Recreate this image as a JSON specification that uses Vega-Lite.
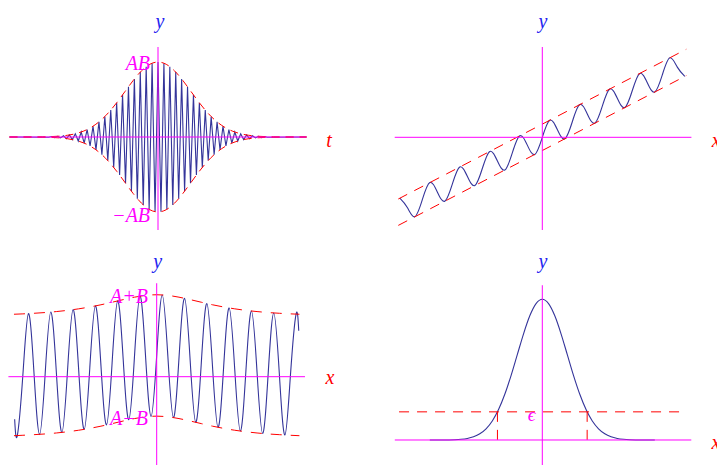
{
  "$schema": "https://vega.github.io/schema/vega-lite/v6.json",
  "width": 717,
  "height": 465,
  "autosize": {"type": "none"},
  "padding": 0,
  "background": "white",
  "config": {
    "view": {"stroke": null},
    "text": {"font": "Liberation Serif", "fontStyle": "italic", "fontSize": 20, "baseline": "middle"},
    "line": {"strokeWidth": 1.1},
    "rule": {"strokeWidth": 1}
  },
  "datasets": {
    "packet": [
      {"x": -4.5, "y": 0},
      {"x": -3.3115, "y": -0.0042}, {"x": -3.222, "y": 0.0056}, {"x": -3.1325, "y": -0.0074}, {"x": -3.043, "y": 0.0098},
      {"x": -2.9535, "y": -0.0128}, {"x": -2.864, "y": 0.0166}, {"x": -2.7745, "y": -0.0213}, {"x": -2.685, "y": 0.0272},
      {"x": -2.5955, "y": -0.0344}, {"x": -2.506, "y": 0.0433}, {"x": -2.4165, "y": -0.0539}, {"x": -2.327, "y": 0.0667},
      {"x": -2.2375, "y": -0.0818}, {"x": -2.148, "y": 0.0996}, {"x": -2.0585, "y": -0.12}, {"x": -1.969, "y": 0.144},
      {"x": -1.8795, "y": -0.171}, {"x": -1.79, "y": 0.2015}, {"x": -1.7005, "y": -0.236}, {"x": -1.611, "y": 0.273},
      {"x": -1.5215, "y": -0.314}, {"x": -1.432, "y": 0.359}, {"x": -1.3425, "y": -0.406}, {"x": -1.253, "y": 0.456},
      {"x": -1.1635, "y": -0.508}, {"x": -1.074, "y": 0.562}, {"x": -0.9845, "y": -0.616}, {"x": -0.895, "y": 0.67},
      {"x": -0.8055, "y": -0.723}, {"x": -0.716, "y": 0.774}, {"x": -0.6265, "y": -0.822}, {"x": -0.537, "y": 0.866},
      {"x": -0.4475, "y": -0.905}, {"x": -0.358, "y": 0.938}, {"x": -0.2685, "y": -0.965}, {"x": -0.179, "y": 0.984},
      {"x": -0.0895, "y": -0.996}, {"x": 0, "y": 1},
      {"x": 0.0895, "y": -0.996}, {"x": 0.179, "y": 0.984}, {"x": 0.2685, "y": -0.965}, {"x": 0.358, "y": 0.938},
      {"x": 0.4475, "y": -0.905}, {"x": 0.537, "y": 0.866}, {"x": 0.6265, "y": -0.822}, {"x": 0.716, "y": 0.774},
      {"x": 0.8055, "y": -0.723}, {"x": 0.895, "y": 0.67}, {"x": 0.9845, "y": -0.616}, {"x": 1.074, "y": 0.562},
      {"x": 1.1635, "y": -0.508}, {"x": 1.253, "y": 0.456}, {"x": 1.3425, "y": -0.406}, {"x": 1.432, "y": 0.359},
      {"x": 1.5215, "y": -0.314}, {"x": 1.611, "y": 0.273}, {"x": 1.7005, "y": -0.236}, {"x": 1.79, "y": 0.2015},
      {"x": 1.8795, "y": -0.171}, {"x": 1.969, "y": 0.144}, {"x": 2.0585, "y": -0.12}, {"x": 2.148, "y": 0.0996},
      {"x": 2.2375, "y": -0.0818}, {"x": 2.327, "y": 0.0667}, {"x": 2.4165, "y": -0.0539}, {"x": 2.506, "y": 0.0433},
      {"x": 2.5955, "y": -0.0344}, {"x": 2.685, "y": 0.0272}, {"x": 2.7745, "y": -0.0213}, {"x": 2.864, "y": 0.0166},
      {"x": 2.9535, "y": -0.0128}, {"x": 3.043, "y": 0.0098}, {"x": 3.1325, "y": -0.0074}, {"x": 3.222, "y": 0.0056},
      {"x": 3.3115, "y": -0.0042},
      {"x": 4.5, "y": 0}
    ],
    "bell": [
      {"x": -4.5, "y": 0}, {"x": -4, "y": 0.0003}, {"x": -3.5, "y": 0.0022}, {"x": -3.25, "y": 0.0051},
      {"x": -3, "y": 0.0111}, {"x": -2.75, "y": 0.0228}, {"x": -2.5, "y": 0.0439}, {"x": -2.25, "y": 0.0796},
      {"x": -2, "y": 0.1353}, {"x": -1.75, "y": 0.2163}, {"x": -1.5, "y": 0.3247}, {"x": -1.25, "y": 0.4578},
      {"x": -1, "y": 0.6065}, {"x": -0.75, "y": 0.7548}, {"x": -0.5, "y": 0.8825}, {"x": -0.25, "y": 0.9692},
      {"x": 0, "y": 1},
      {"x": 0.25, "y": 0.9692}, {"x": 0.5, "y": 0.8825}, {"x": 0.75, "y": 0.7548}, {"x": 1, "y": 0.6065},
      {"x": 1.25, "y": 0.4578}, {"x": 1.5, "y": 0.3247}, {"x": 1.75, "y": 0.2163}, {"x": 2, "y": 0.1353},
      {"x": 2.25, "y": 0.0796}, {"x": 2.5, "y": 0.0439}, {"x": 2.75, "y": 0.0228}, {"x": 3, "y": 0.0111},
      {"x": 3.25, "y": 0.0051}, {"x": 3.5, "y": 0.0022}, {"x": 4, "y": 0.0003}, {"x": 4.5, "y": 0}
    ],
    "bellNeg": [
      {"x": -4.5, "y": 0}, {"x": -4, "y": -0.0003}, {"x": -3.5, "y": -0.0022}, {"x": -3.25, "y": -0.0051},
      {"x": -3, "y": -0.0111}, {"x": -2.75, "y": -0.0228}, {"x": -2.5, "y": -0.0439}, {"x": -2.25, "y": -0.0796},
      {"x": -2, "y": -0.1353}, {"x": -1.75, "y": -0.2163}, {"x": -1.5, "y": -0.3247}, {"x": -1.25, "y": -0.4578},
      {"x": -1, "y": -0.6065}, {"x": -0.75, "y": -0.7548}, {"x": -0.5, "y": -0.8825}, {"x": -0.25, "y": -0.9692},
      {"x": 0, "y": -1},
      {"x": 0.25, "y": -0.9692}, {"x": 0.5, "y": -0.8825}, {"x": 0.75, "y": -0.7548}, {"x": 1, "y": -0.6065},
      {"x": 1.25, "y": -0.4578}, {"x": 1.5, "y": -0.3247}, {"x": 1.75, "y": -0.2163}, {"x": 2, "y": -0.1353},
      {"x": 2.25, "y": -0.0796}, {"x": 2.5, "y": -0.0439}, {"x": 2.75, "y": -0.0228}, {"x": 3, "y": -0.0111},
      {"x": 3.25, "y": -0.0051}, {"x": 3.5, "y": -0.0022}, {"x": 4, "y": -0.0003}, {"x": 4.5, "y": 0}
    ],
    "ramp": [
      {"x": -4.75, "y": -2.03}, {"x": -4.5, "y": -2.34}, {"x": -4.25, "y": -2.65}, {"x": -4, "y": -2.08},
      {"x": -3.75, "y": -1.51}, {"x": -3.5, "y": -1.82}, {"x": -3.25, "y": -2.13}, {"x": -3, "y": -1.56},
      {"x": -2.75, "y": -0.99}, {"x": -2.5, "y": -1.3}, {"x": -2.25, "y": -1.61}, {"x": -2, "y": -1.04},
      {"x": -1.75, "y": -0.47}, {"x": -1.5, "y": -0.78}, {"x": -1.25, "y": -1.09}, {"x": -1, "y": -0.52},
      {"x": -0.75, "y": 0.05}, {"x": -0.5, "y": -0.26}, {"x": -0.25, "y": -0.57}, {"x": 0, "y": 0},
      {"x": 0.25, "y": 0.57}, {"x": 0.5, "y": 0.26}, {"x": 0.75, "y": -0.05}, {"x": 1, "y": 0.52},
      {"x": 1.25, "y": 1.09}, {"x": 1.5, "y": 0.78}, {"x": 1.75, "y": 0.47}, {"x": 2, "y": 1.04},
      {"x": 2.25, "y": 1.61}, {"x": 2.5, "y": 1.3}, {"x": 2.75, "y": 0.99}, {"x": 3, "y": 1.56},
      {"x": 3.25, "y": 2.13}, {"x": 3.5, "y": 1.82}, {"x": 3.75, "y": 1.51}, {"x": 4, "y": 2.08},
      {"x": 4.25, "y": 2.65}, {"x": 4.5, "y": 2.34}, {"x": 4.75, "y": 2.03}
    ],
    "beat": [
      {"x": -6.37, "y": -0.7}, {"x": -6.25, "y": -0.969}, {"x": -6, "y": 0.035}, {"x": -5.75, "y": 1.039},
      {"x": -5.5, "y": 0.045}, {"x": -5.25, "y": -0.95}, {"x": -5, "y": 0.057}, {"x": -4.75, "y": 1.065},
      {"x": -4.5, "y": 0.073}, {"x": -4.25, "y": -0.918}, {"x": -4, "y": 0.093}, {"x": -3.75, "y": 1.105},
      {"x": -3.5, "y": 0.118}, {"x": -3.25, "y": -0.867}, {"x": -3, "y": 0.149}, {"x": -2.75, "y": 1.166},
      {"x": -2.5, "y": 0.185}, {"x": -2.25, "y": -0.794}, {"x": -2, "y": 0.227}, {"x": -1.75, "y": 1.249},
      {"x": -1.5, "y": 0.27}, {"x": -1.25, "y": -0.709}, {"x": -1, "y": 0.31}, {"x": -0.75, "y": 1.327},
      {"x": -0.5, "y": 0.339}, {"x": -0.25, "y": -0.653}, {"x": 0, "y": 0.35}, {"x": 0.25, "y": 1.347},
      {"x": 0.5, "y": 0.339}, {"x": 0.75, "y": -0.673}, {"x": 1, "y": 0.31}, {"x": 1.25, "y": 1.291},
      {"x": 1.5, "y": 0.27}, {"x": 1.75, "y": -0.751}, {"x": 2, "y": 0.227}, {"x": 2.25, "y": 1.206},
      {"x": 2.5, "y": 0.185}, {"x": 2.75, "y": -0.834}, {"x": 3, "y": 0.149}, {"x": 3.25, "y": 1.133},
      {"x": 3.5, "y": 0.118}, {"x": 3.75, "y": -0.895}, {"x": 4, "y": 0.093}, {"x": 4.25, "y": 1.082},
      {"x": 4.5, "y": 0.073}, {"x": 4.75, "y": -0.936}, {"x": 5, "y": 0.057}, {"x": 5.25, "y": 1.05},
      {"x": 5.5, "y": 0.045}, {"x": 5.75, "y": -0.961}, {"x": 6, "y": 0.035}, {"x": 6.25, "y": 1.031},
      {"x": 6.37, "y": 0.758}
    ],
    "beatUpper": [
      {"x": -6.4, "y": 1.029}, {"x": -6, "y": 1.035}, {"x": -5.5, "y": 1.045}, {"x": -5, "y": 1.057},
      {"x": -4.5, "y": 1.073}, {"x": -4, "y": 1.093}, {"x": -3.5, "y": 1.118}, {"x": -3, "y": 1.149},
      {"x": -2.5, "y": 1.185}, {"x": -2, "y": 1.227}, {"x": -1.5, "y": 1.27}, {"x": -1, "y": 1.31},
      {"x": -0.5, "y": 1.339}, {"x": 0, "y": 1.35}, {"x": 0.5, "y": 1.339}, {"x": 1, "y": 1.31},
      {"x": 1.5, "y": 1.27}, {"x": 2, "y": 1.227}, {"x": 2.5, "y": 1.185}, {"x": 3, "y": 1.149},
      {"x": 3.5, "y": 1.118}, {"x": 4, "y": 1.093}, {"x": 4.5, "y": 1.073}, {"x": 5, "y": 1.057},
      {"x": 5.5, "y": 1.045}, {"x": 6, "y": 1.035}, {"x": 6.4, "y": 1.029}
    ],
    "beatLower": [
      {"x": -6.4, "y": -0.972}, {"x": -6, "y": -0.965}, {"x": -5.5, "y": -0.955}, {"x": -5, "y": -0.943},
      {"x": -4.5, "y": -0.927}, {"x": -4, "y": -0.907}, {"x": -3.5, "y": -0.882}, {"x": -3, "y": -0.851},
      {"x": -2.5, "y": -0.815}, {"x": -2, "y": -0.773}, {"x": -1.5, "y": -0.73}, {"x": -1, "y": -0.69},
      {"x": -0.5, "y": -0.661}, {"x": 0, "y": -0.65}, {"x": 0.5, "y": -0.661}, {"x": 1, "y": -0.69},
      {"x": 1.5, "y": -0.73}, {"x": 2, "y": -0.773}, {"x": 2.5, "y": -0.815}, {"x": 3, "y": -0.851},
      {"x": 3.5, "y": -0.882}, {"x": 4, "y": -0.907}, {"x": 4.5, "y": -0.927}, {"x": 5, "y": -0.943},
      {"x": 5.5, "y": -0.955}, {"x": 6, "y": -0.965}, {"x": 6.4, "y": -0.972}
    ]
  },
  "resolve": {"scale": {"x": "independent", "y": "independent"}},
  "layer": [
    {
      "description": "Gaussian wave packet with its envelope",
      "encoding": {
        "x": {"field": "x", "type": "quantitative", "axis": null, "scale": {"domain": [-4.788, 16.939], "nice": false, "zero": false}},
        "y": {"field": "y", "type": "quantitative", "axis": null, "scale": {"domain": [-4.3733, 1.8267], "nice": false, "zero": false}}
      },
      "layer": [
        {"data": {"name": "packet"}, "mark": {"type": "line", "color": "#34349a"}},
        {"data": {"name": "bell"}, "mark": {"type": "line", "color": "#ff0000", "strokeWidth": 1, "strokeDash": [8, 6], "interpolate": "monotone"}},
        {"data": {"name": "bellNeg"}, "mark": {"type": "line", "color": "#ff0000", "strokeWidth": 1, "strokeDash": [8, 6], "interpolate": "monotone"}},
        {
          "data": {"values": [{"x": -4.5, "y": 0, "x2": 4.5, "y2": 0}, {"x": 0, "y": 1.2, "x2": 0, "y2": -1.24}]},
          "mark": {"type": "rule", "color": "#ff00ff"},
          "encoding": {"x2": {"field": "x2"}, "y2": {"field": "y2"}}
        },
        {"data": {"values": [{"x": 0.06, "y": 1.53, "label": "y"}]}, "mark": {"type": "text", "color": "#2323f0"}, "encoding": {"text": {"field": "label"}}},
        {"data": {"values": [{"x": 5.18, "y": -0.05, "label": "t"}]}, "mark": {"type": "text", "color": "#ff0000"}, "encoding": {"text": {"field": "label"}}},
        {
          "data": {"values": [{"x": -0.24, "y": 0.97, "label": "AB"}, {"x": -0.24, "y": -1.05, "label": "−AB"}]},
          "mark": {"type": "text", "color": "#ff00ff", "align": "right"},
          "encoding": {"text": {"field": "label"}}
        }
      ]
    },
    {
      "description": "Oscillation about a straight line, between two parallel bounds",
      "encoding": {
        "x": {"field": "x", "type": "quantitative", "axis": null, "scale": {"domain": [-18.077, 5.823], "nice": false, "zero": false}},
        "y": {"field": "y", "type": "quantitative", "axis": null, "scale": {"domain": [-10.923, 4.577], "nice": false, "zero": false}}
      },
      "layer": [
        {"data": {"name": "ramp"}, "mark": {"type": "line", "color": "#34349a", "interpolate": "natural"}},
        {
          "data": {"values": [{"x": -4.8, "y": -2.056, "x2": 4.8, "y2": 2.936}, {"x": -4.8, "y": -2.936, "x2": 4.8, "y2": 2.056}]},
          "mark": {"type": "rule", "color": "#ff0000", "strokeDash": [10, 8]},
          "encoding": {"x2": {"field": "x2"}, "y2": {"field": "y2"}}
        },
        {
          "data": {"values": [{"x": -4.92, "y": 0, "x2": 4.97, "y2": 0}, {"x": 0, "y": 3.01, "x2": 0, "y2": -3.09}]},
          "mark": {"type": "rule", "color": "#ff00ff"},
          "encoding": {"x2": {"field": "x2"}, "y2": {"field": "y2"}}
        },
        {"data": {"values": [{"x": 0.02, "y": 3.84, "label": "y"}]}, "mark": {"type": "text", "color": "#2323f0"}, "encoding": {"text": {"field": "label"}}},
        {"data": {"values": [{"x": 5.8, "y": -0.12, "label": "x"}]}, "mark": {"type": "text", "color": "#ff0000"}, "encoding": {"text": {"field": "label"}}}
      ]
    },
    {
      "description": "Oscillation of amplitude A lifted by a bump of height B",
      "encoding": {
        "x": {"field": "x", "type": "quantitative", "axis": null, "scale": {"domain": [-7.027, 25.126], "nice": false, "zero": false}},
        "y": {"field": "y", "type": "quantitative", "axis": null, "scale": {"domain": [-1.4547, 6.2059], "nice": false, "zero": false}}
      },
      "layer": [
        {"data": {"name": "beat"}, "mark": {"type": "line", "color": "#34349a", "interpolate": "natural"}},
        {"data": {"name": "beatUpper"}, "mark": {"type": "line", "color": "#ff0000", "strokeWidth": 1, "strokeDash": [11, 9], "interpolate": "monotone"}},
        {"data": {"name": "beatLower"}, "mark": {"type": "line", "color": "#ff0000", "strokeWidth": 1, "strokeDash": [11, 9], "interpolate": "monotone"}},
        {
          "data": {"values": [{"x": -6.65, "y": 0, "x2": 6.65, "y2": 0}, {"x": 0, "y": 1.54, "x2": 0, "y2": -1.46}]},
          "mark": {"type": "rule", "color": "#ff00ff"},
          "encoding": {"x2": {"field": "x2"}, "y2": {"field": "y2"}}
        },
        {"data": {"values": [{"x": 0.04, "y": 1.89, "label": "y"}]}, "mark": {"type": "text", "color": "#2323f0"}, "encoding": {"text": {"field": "label"}}},
        {"data": {"values": [{"x": 7.77, "y": -0.02, "label": "x"}]}, "mark": {"type": "text", "color": "#ff0000"}, "encoding": {"text": {"field": "label"}}},
        {
          "data": {"values": [{"x": -0.39, "y": 1.32, "label": "A+B"}, {"x": -0.39, "y": -0.69, "label": "A−B"}]},
          "mark": {"type": "text", "color": "#ff00ff", "align": "right"},
          "encoding": {"text": {"field": "label"}}
        }
      ]
    },
    {
      "description": "Bell curve cut by the level epsilon",
      "encoding": {
        "x": {"field": "x", "type": "quantitative", "axis": null, "scale": {"domain": [-21.692, 6.988], "nice": false, "zero": false}},
        "y": {"field": "y", "type": "quantitative", "axis": null, "scale": {"domain": [-0.1777, 3.1272], "nice": false, "zero": false}}
      },
      "layer": [
        {"data": {"name": "bell"}, "mark": {"type": "line", "color": "#34349a", "interpolate": "monotone"}},
        {
          "data": {"values": [{"x": -5.73, "y": 0.2, "x2": 5.76, "y2": 0.2}, {"x": -1.794, "y": 0.2, "x2": -1.794, "y2": 0}, {"x": 1.794, "y": 0.2, "x2": 1.794, "y2": 0}]},
          "mark": {"type": "rule", "color": "#ff0000", "strokeDash": [10, 8]},
          "encoding": {"x2": {"field": "x2"}, "y2": {"field": "y2"}}
        },
        {
          "data": {"values": [{"x": -5.9, "y": 0, "x2": 5.96, "y2": 0}, {"x": 0, "y": 1.1, "x2": 0, "y2": -0.18}]},
          "mark": {"type": "rule", "color": "#ff00ff"},
          "encoding": {"x2": {"field": "x2"}, "y2": {"field": "y2"}}
        },
        {"data": {"values": [{"x": 0.03, "y": 1.265, "label": "y"}]}, "mark": {"type": "text", "color": "#2323f0"}, "encoding": {"text": {"field": "label"}}},
        {"data": {"values": [{"x": 6.95, "y": -0.018, "label": "x"}]}, "mark": {"type": "text", "color": "#ff0000"}, "encoding": {"text": {"field": "label"}}},
        {"data": {"values": [{"x": -0.43, "y": 0.18, "label": "ϵ"}]}, "mark": {"type": "text", "color": "#ff00ff", "fontSize": 19}, "encoding": {"text": {"field": "label"}}}
      ]
    }
  ]
}
